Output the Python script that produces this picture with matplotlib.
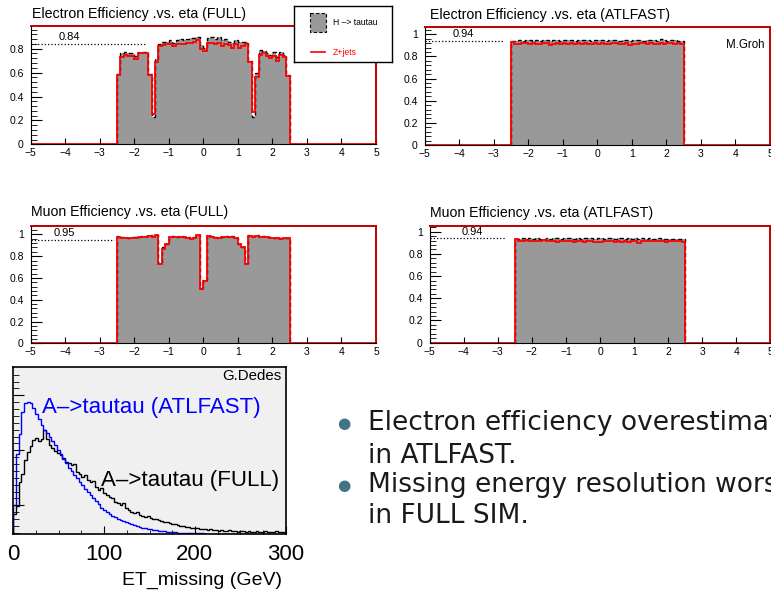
import matplotlib
matplotlib.use("Agg")
import matplotlib.pyplot as plt
import numpy as np
from matplotlib.patches import Rectangle
from matplotlib.lines import Line2D
from matplotlib.ticker import MultipleLocator, FixedLocator, FuncFormatter

# ---------------------------------------------------------------- data
eta_edges = np.linspace(-2.5, 2.5, 51)

# electron efficiency, full simulation
el_full_htt = [0.59, 0.76, 0.77, 0.76, 0.76, 0.74, 0.77, 0.77, 0.77, 0.59,
               0.23, 0.71, 0.84, 0.86, 0.86, 0.87, 0.85, 0.87, 0.88, 0.87,
               0.88, 0.89, 0.89, 0.90, 0.83, 0.81, 0.89, 0.90, 0.88, 0.90,
               0.87, 0.88, 0.86, 0.85, 0.87, 0.86, 0.86, 0.86, 0.70, 0.23,
               0.60, 0.79, 0.78, 0.76, 0.75, 0.77, 0.73, 0.77, 0.75, 0.58]
el_full_zj = [0.58, 0.73, 0.75, 0.74, 0.74, 0.71, 0.76, 0.76, 0.76, 0.58,
              0.25, 0.69, 0.82, 0.83, 0.84, 0.84, 0.82, 0.84, 0.84, 0.84,
              0.85, 0.85, 0.86, 0.87, 0.80, 0.78, 0.85, 0.85, 0.84, 0.85,
              0.82, 0.84, 0.83, 0.81, 0.84, 0.81, 0.82, 0.84, 0.69, 0.27,
              0.56, 0.75, 0.76, 0.74, 0.72, 0.74, 0.70, 0.75, 0.73, 0.57]

# electron efficiency, ATLFAST
el_fast_htt = [0.935, 0.94, 0.945, 0.94, 0.945, 0.95, 0.94, 0.945, 0.94, 0.95,
               0.945, 0.94, 0.945, 0.95, 0.94, 0.945, 0.95, 0.945, 0.94, 0.95,
               0.945, 0.95, 0.945, 0.94, 0.95, 0.945, 0.95, 0.94, 0.945, 0.95,
               0.945, 0.94, 0.95, 0.945, 0.94, 0.945, 0.95, 0.945, 0.94, 0.945,
               0.95, 0.945, 0.94, 0.96, 0.945, 0.94, 0.95, 0.945, 0.94, 0.935]
el_fast_zj = [0.93, 0.91, 0.915, 0.92, 0.92, 0.915, 0.92, 0.91, 0.915, 0.92,
              0.92, 0.905, 0.915, 0.92, 0.915, 0.92, 0.915, 0.92, 0.91, 0.92,
              0.915, 0.92, 0.915, 0.91, 0.92, 0.915, 0.92, 0.915, 0.91, 0.92,
              0.92, 0.915, 0.91, 0.92, 0.905, 0.91, 0.915, 0.92, 0.92, 0.915,
              0.92, 0.91, 0.915, 0.92, 0.915, 0.92, 0.92, 0.915, 0.92, 0.91]

# muon efficiency, full simulation
mu_full_zj = [0.98, 0.97, 0.97, 0.965, 0.97, 0.97, 0.975, 0.98, 0.98, 0.985,
              0.98, 0.99, 0.73, 0.87, 0.91, 0.975, 0.98, 0.975, 0.98, 0.975,
              0.97, 0.96, 0.97, 0.99, 0.50, 0.57, 0.985, 0.98, 0.97, 0.965,
              0.975, 0.98, 0.975, 0.98, 0.965, 0.91, 0.88, 0.73, 0.985, 0.98,
              0.985, 0.975, 0.98, 0.975, 0.97, 0.965, 0.97, 0.96, 0.965, 0.965]
mu_full_htt = [0.985, 0.975, 0.975, 0.97, 0.975, 0.975, 0.98, 0.985, 0.985, 0.99,
               0.985, 0.99, 0.74, 0.88, 0.915, 0.98, 0.985, 0.98, 0.985, 0.98,
               0.975, 0.965, 0.975, 0.99, 0.51, 0.58, 0.99, 0.985, 0.975, 0.97,
               0.98, 0.985, 0.98, 0.985, 0.97, 0.915, 0.885, 0.74, 0.99, 0.985,
               0.99, 0.98, 0.985, 0.98, 0.975, 0.97, 0.975, 0.965, 0.97, 0.97]

# muon efficiency, ATLFAST
mu_fast_htt = [0.935, 0.93, 0.94, 0.935, 0.94, 0.935, 0.94, 0.935, 0.93, 0.94,
               0.935, 0.94, 0.94, 0.935, 0.94, 0.945, 0.94, 0.935, 0.94, 0.935,
               0.94, 0.945, 0.94, 0.935, 0.94, 0.945, 0.935, 0.94, 0.94, 0.935,
               0.945, 0.94, 0.935, 0.94, 0.935, 0.94, 0.93, 0.94, 0.935, 0.94,
               0.935, 0.93, 0.94, 0.935, 0.93, 0.935, 0.935, 0.93, 0.935, 0.93]
mu_fast_zj = [0.935, 0.915, 0.92, 0.925, 0.92, 0.92, 0.915, 0.92, 0.925, 0.92,
              0.915, 0.92, 0.91, 0.92, 0.915, 0.92, 0.915, 0.91, 0.92, 0.915,
              0.91, 0.92, 0.915, 0.91, 0.905, 0.91, 0.915, 0.92, 0.915, 0.91,
              0.915, 0.905, 0.915, 0.91, 0.92, 0.915, 0.90, 0.915, 0.92, 0.915,
              0.92, 0.915, 0.92, 0.915, 0.91, 0.92, 0.915, 0.92, 0.915, 0.91]

panel_titles = ["Electron Efficiency .vs. eta (FULL)",
                "Electron Efficiency .vs. eta (ATLFAST)",
                "Muon Efficiency .vs. eta (FULL)",
                "Muon Efficiency .vs. eta (ATLFAST)"]
mean_eff = [0.84, 0.94, 0.95, 0.94]

# missing ET, 3 GeV bins from 0 to 300
met_edges = np.linspace(0, 300, 101)
met_full = [20, 28, 52, 60, 74, 82, 88, 94, 96, 93,
            95, 104, 95, 89, 86, 83, 81, 79, 76, 72,
            71, 69, 70, 62, 60, 57, 59, 54, 52, 53,
            47, 44, 46, 41, 39, 37, 36, 32, 31, 29,
            31, 26, 24, 22, 21, 22, 19, 18, 17, 18,
            16, 15, 15, 14, 13, 12, 12, 11, 10, 10,
            9, 8, 8, 7, 7, 6, 6, 6, 5, 5,
            5, 4, 5, 4, 4, 3, 4, 3, 3, 4,
            3, 3, 2, 3, 3, 2, 3, 2, 2, 3,
            2, 2, 3, 2, 2, 2, 3, 2, 2, 2]
met_fast = [29, 80, 100, 122, 131, 132, 131, 126, 120, 115,
            109, 104, 101, 97, 93, 89, 84, 80, 75, 71,
            66, 63, 59, 56, 52, 49, 45, 42, 39, 36,
            33, 30, 26, 24, 22, 20, 18, 17, 15, 14,
            13, 12, 11, 10, 9, 8, 7, 6, 6, 5,
            5, 4, 4, 3, 3, 3, 2, 2, 2, 2,
            1.5, 1, 1, 1, 1, 1, 1, 1, 1, 1,
            0.5, 0.5, 0.5, 0.5, 0.5, 0.5, 0.5, 0.5, 0.5, 0.5,
            0.5, 0.5, 0.5, 0.5, 0.5, 0.5, 0.5, 0.5, 0.5, 0.5,
            0.5, 0.5, 0.5, 0.5, 0.5, 0.5, 0.5, 0.5, 0.5, 0.5]

bullets = [("Electron efficiency overestimated", "in ATLFAST."),
           ("Missing energy resolution worse", "in FULL SIM.")]

# ---------------------------------------------------------------- layout
W, H = 771, 590
fig = plt.figure(figsize=(W / 100, H / 100), dpi=100)
plt.rcParams['font.family'] = ['Liberation Sans', 'DejaVu Sans']


def px_axes(x0, y0, x1, y1):
    return fig.add_axes([x0 / W, 1 - y1 / H, (x1 - x0) / W, (y1 - y0) / H])


def eff_panel(box, title, title_xy, htt, zj, ymax, mean, label_x, line_end):
    ax = px_axes(*box)
    ax.stairs(htt, eta_edges, fill=True, color='#999999', lw=0)
    ax.stairs(htt, eta_edges, color='black', ls=(0, (3, 2)), lw=1.0)
    red_edges = np.concatenate([[-5], eta_edges, [5]])
    red_vals = np.concatenate([[0], zj, [0]])
    ax.stairs(red_vals, red_edges, color='red', lw=1.3)
    ax.hlines(mean, -5, line_end, colors='black', linestyles=':', lw=0.9)
    ax.text(label_x, mean + 0.015, f"{mean:.2f}", fontsize=8, va='bottom')
    ax.set_xlim(-5, 5)
    ax.set_ylim(0, ymax)
    ax.xaxis.set_major_locator(MultipleLocator(1))
    ax.yaxis.set_major_locator(MultipleLocator(0.2))
    ax.yaxis.set_minor_locator(MultipleLocator(0.04))
    ax.yaxis.set_major_formatter(FuncFormatter(lambda v, p: f"{v:g}"))
    ax.tick_params(axis='y', which='major', direction='in', length=8,
                   width=0.8, labelsize=7.5, pad=5)
    ax.tick_params(axis='y', which='minor', direction='in', length=4, width=0.6)
    ax.tick_params(axis='x', which='major', direction='in', length=4,
                   width=0.8, labelsize=7.5, pad=3)
    for s in ('left', 'bottom'):
        ax.spines[s].set_color('black')
    for s in ('top', 'right'):
        ax.spines[s].set_color('#c00000')
        ax.spines[s].set_linewidth(1.4)
    fig.text(title_xy[0] / W, 1 - title_xy[1] / H, title,
             fontsize=10.2, va='center', ha='left')
    return ax


eff_panel((30.7, 26, 376, 144.3), panel_titles[0], (31.5, 14),
          el_full_htt, el_full_zj, 0.99, mean_eff[0], -4.2, -1.64)
ax_tr = eff_panel((424.7, 27.3, 770, 145), panel_titles[1], (430, 15),
                  el_fast_htt, el_fast_zj, 1.063, mean_eff[1], -4.2, -2.72)
ax_tr.text(0.985, 0.85, "M.Groh", transform=ax_tr.transAxes, ha='right',
           va='center', fontsize=8.3)
eff_panel((30.7, 225.7, 376, 343.3), panel_titles[2], (31, 211.5),
          mu_full_htt, mu_full_zj, 1.08, mean_eff[2], -4.35, -2.6)
eff_panel((429.7, 225.7, 770.3, 342.7), panel_titles[3], (430, 213),
          mu_fast_htt, mu_fast_zj, 1.054, mean_eff[3], -4.06, -2.79)

# legend box of the first panel
lg = px_axes(294, 5.7, 392, 62.3)
lg.set_xlim(0, 98)
lg.set_ylim(56.6, 0)
lg.set_xticks([])
lg.set_yticks([])
for s in lg.spines.values():
    s.set_linewidth(1.0)
lg.add_patch(Rectangle((16, 7), 16, 19, facecolor='#999999',
                       edgecolor='black', ls=(0, (3, 2)), lw=0.8))
lg.add_line(Line2D([17, 31], [46.5, 46.5], color='red', lw=1.2))
lg.text(39, 16.5, "H \u2013> tautau", fontsize=6.2, va='center')
lg.text(39, 47, "Z+jets", fontsize=6.2, va='center', color='red')

# missing ET panel
axm = px_axes(13.3, 367.3, 285.7, 534)
axm.set_facecolor('#f0f0f0')
axm.stairs(met_full, met_edges, color='black', lw=1.0)
axm.stairs(met_fast, met_edges, color='blue', lw=1.0)
axm.set_xlim(0, 300)
axm.set_ylim(0, 166.7)
axm.xaxis.set_major_locator(MultipleLocator(100))
axm.xaxis.set_minor_locator(MultipleLocator(25))
axm.yaxis.set_major_locator(FixedLocator([28.7, 83.7, 138.7]))
axm.yaxis.set_minor_locator(FixedLocator(np.arange(28.7 - 4 * 6.875, 166, 6.875)))
axm.tick_params(axis='x', which='major', direction='in', length=6,
                labelsize=16, pad=7)
axm.tick_params(axis='x', which='minor', direction='in', length=3)
axm.tick_params(axis='y', which='major', direction='in', length=8, labelleft=False)
axm.tick_params(axis='y', which='minor', direction='in', length=4)
for s in axm.spines.values():
    s.set_linewidth(1.2)
axm.text(0.985, 0.95, "G.Dedes", transform=axm.transAxes, ha='right',
         va='center', fontsize=10.8)
axm.text(32, 126, "A\u2013>tautau (ATLFAST)", color='blue', fontsize=16,
         va='center')
axm.text(97, 53.5, "A\u2013>tautau (FULL)", color='black', fontsize=16,
         va='center')
fig.text(281.7 / W, 1 - 580 / H, "ET_missing (GeV)", fontsize=14,
         ha='right', va='center')

# bullet text on the right
line_y = [(430, 463), (492, 523)]
for (l1, l2), (y1, y2) in zip(bullets, line_y):
    fig.text(344 / W, 1 - (y1 - 6.5) / H, "\u25CF", color='#3f7585',
             fontsize=11, ha='center', va='center', family='DejaVu Sans')
    fig.text(368 / W, 1 - y1 / H, l1, fontsize=19, color='#1a1a1a',
             family='DejaVu Sans', va='baseline')
    fig.text(368 / W, 1 - y2 / H, l2, fontsize=19, color='#1a1a1a',
             family='DejaVu Sans', va='baseline')

fig.savefig("out.png", dpi=100)
